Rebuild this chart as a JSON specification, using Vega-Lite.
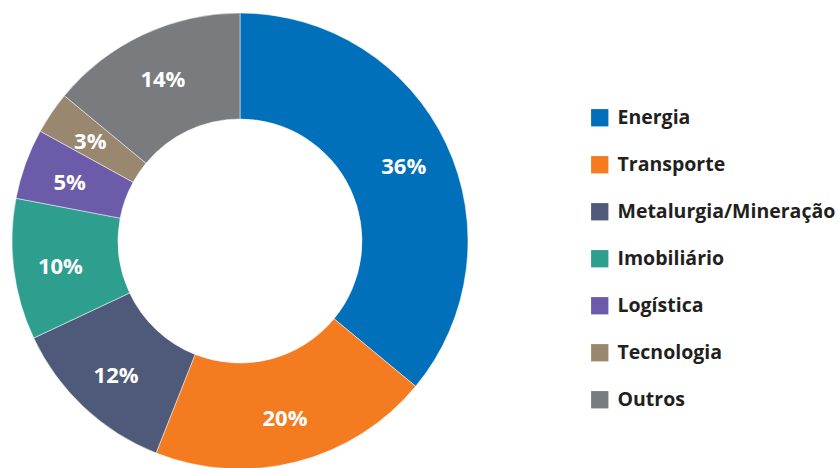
{
  "$schema": "https://vega.github.io/schema/vega-lite/v6.json",
  "width": 460,
  "height": 460,
  "padding": {"left": 10, "top": 11, "right": 368, "bottom": 0},
  "autosize": {"type": "none"},
  "background": "white",
  "config": {"view": {"stroke": null}, "font": "Open Sans"},
  "data": {
    "values": [
      {"setor": "Energia", "pct": 0.36, "ordem": 1},
      {"setor": "Transporte", "pct": 0.20, "ordem": 2},
      {"setor": "Metalurgia/Mineração", "pct": 0.12, "ordem": 3},
      {"setor": "Imobiliário", "pct": 0.10, "ordem": 4},
      {"setor": "Logística", "pct": 0.05, "ordem": 5},
      {"setor": "Tecnologia", "pct": 0.03, "ordem": 6},
      {"setor": "Outros", "pct": 0.14, "ordem": 7}
    ]
  },
  "encoding": {
    "theta": {"field": "pct", "type": "quantitative", "stack": true},
    "order": {"field": "ordem", "type": "quantitative"},
    "color": {
      "field": "setor",
      "type": "nominal",
      "scale": {
        "domain": ["Energia", "Transporte", "Metalurgia/Mineração", "Imobiliário", "Logística", "Tecnologia", "Outros"],
        "range": ["#0070BA", "#F47B20", "#4F5A7A", "#2E9E8F", "#6C5BA8", "#9A8770", "#7A7B7F"]
      },
      "legend": {
        "title": null,
        "orient": "none",
        "legendX": 580,
        "legendY": 97,
        "symbolType": "square",
        "symbolSize": 300,
        "symbolStrokeWidth": 0,
        "labelFontSize": 19.5,
        "labelFontWeight": "bold",
        "labelColor": "#231F20",
        "labelFont": "Open Sans",
        "labelOffset": 8,
        "rowPadding": 26,
        "labelLimit": 400
      }
    }
  },
  "layer": [
    {
      "mark": {"type": "arc", "outerRadius": 228, "innerRadius": 122, "stroke": "white", "strokeWidth": 0.5}
    },
    {
      "mark": {"type": "text", "radius": 181, "fontSize": 22, "fontWeight": "bold", "font": "Open Sans", "dy": 3},
      "encoding": {
        "text": {"field": "pct", "type": "quantitative", "format": ".0%"},
        "color": {"value": "white"}
      }
    }
  ]
}
